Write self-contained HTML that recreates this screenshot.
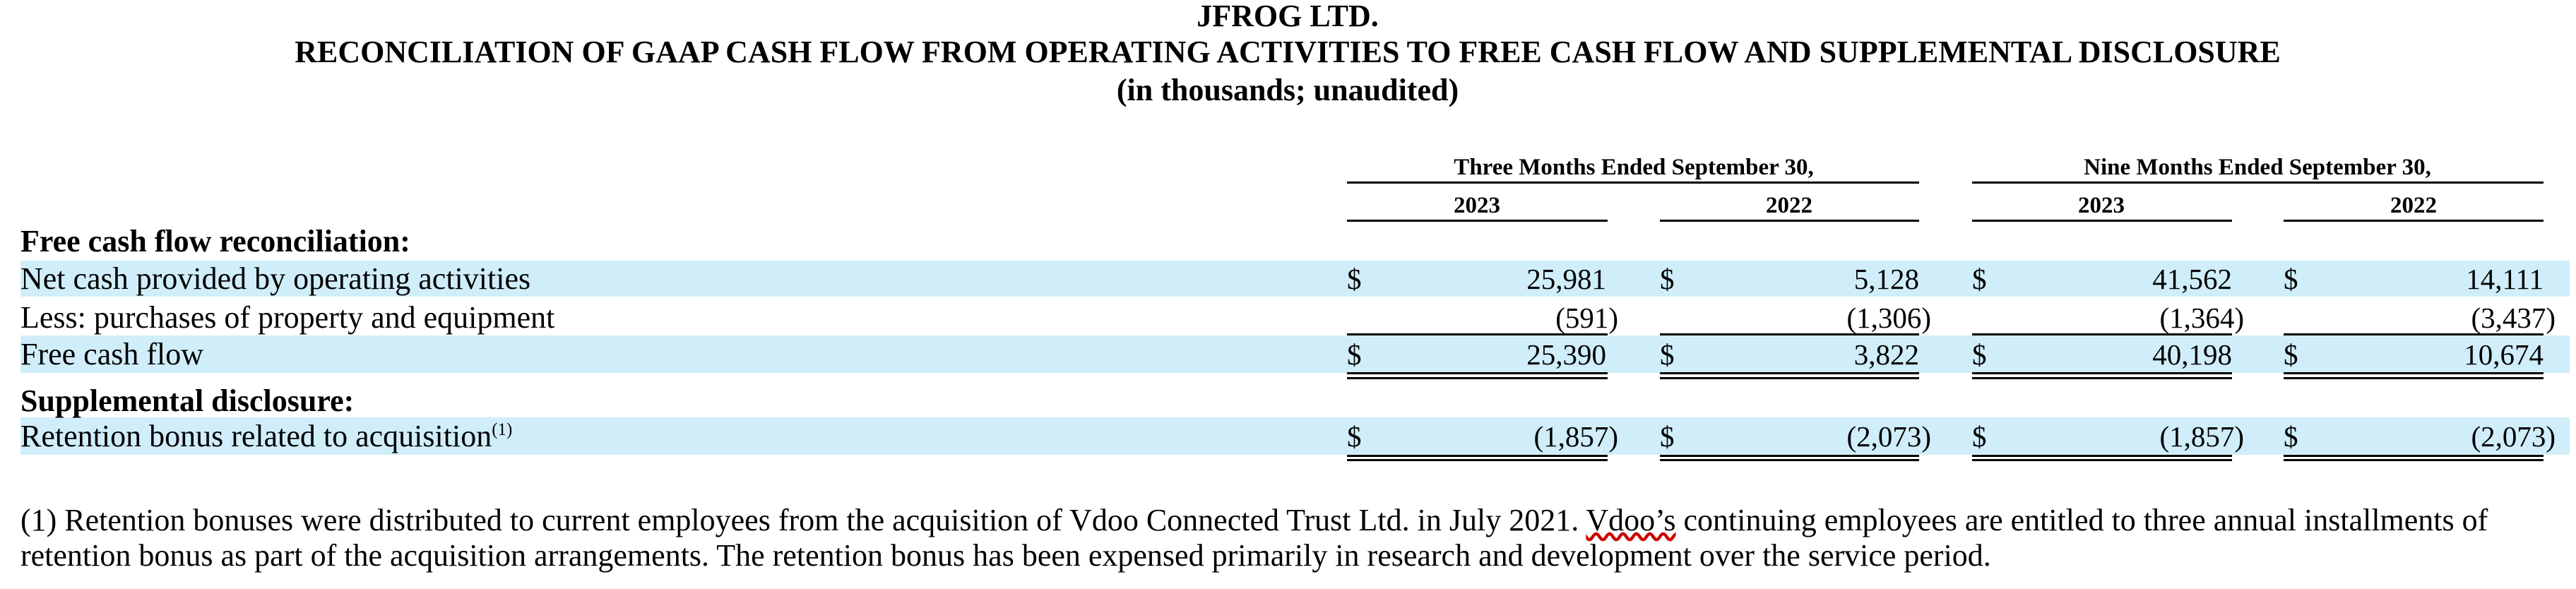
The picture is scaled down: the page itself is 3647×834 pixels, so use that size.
<!DOCTYPE html>
<html><head><meta charset="utf-8"><style>
body{margin:0;width:3647px;height:834px;background:#fff;position:relative;overflow:hidden;font-family:"Liberation Serif",serif;color:#000}
.a{position:absolute;white-space:nowrap;line-height:1}
.c{transform:translateX(-50%)}
.t{font-weight:bold;font-size:44px}
.h{font-weight:bold;font-size:33px}
.l{font-size:44px}
.n{font-size:41px}
.band{position:absolute;left:29px;width:3609px;background:#d0eefa}
.ln{position:absolute;height:3px;background:#000}
.r{text-align:right}
</style></head><body>
<div class="a t c" style="left:1823px;top:1px">JFROG LTD.</div>
<div class="a t c" style="left:1823px;top:52px">RECONCILIATION OF GAAP CASH FLOW FROM OPERATING ACTIVITIES TO FREE CASH FLOW AND SUPPLEMENTAL DISCLOSURE</div>
<div class="a t c" style="left:1823px;top:106px">(in thousands; unaudited)</div>

<div class="a h c" style="left:2313px;top:221px">Three Months Ended September 30,</div>
<div class="a h c" style="left:3196px;top:221px">Nine Months Ended September 30,</div>
<div class="ln" style="left:1907px;width:810px;top:257px"></div>
<div class="ln" style="left:2792px;width:809px;top:257px"></div>
<div class="a h c" style="left:2091px;top:275px">2023</div>
<div class="a h c" style="left:2533px;top:275px">2022</div>
<div class="a h c" style="left:2975px;top:275px">2023</div>
<div class="a h c" style="left:3417px;top:275px">2022</div>
<div class="ln" style="left:1907px;width:369px;top:311px"></div>
<div class="ln" style="left:2350px;width:367px;top:311px"></div>
<div class="ln" style="left:2792px;width:368px;top:311px"></div>
<div class="ln" style="left:3233px;width:368px;top:311px"></div>

<div class="band" style="top:369px;height:51px"></div>
<div class="band" style="top:475px;height:53px"></div>
<div class="band" style="top:591px;height:53px"></div>

<div class="a l" style="left:29px;top:320px;font-weight:bold">Free cash flow reconciliation:</div>
<div class="a l" style="left:29px;top:373px">Net cash provided by operating activities</div>
<div class="a l" style="left:29px;top:428px">Less: purchases of property and equipment</div>
<div class="a l" style="left:29px;top:480px">Free cash flow</div>
<div class="a l" style="left:29px;top:546px;font-weight:bold">Supplemental disclosure:</div>
<div class="a l" style="left:29px;top:596px">Retention bonus related to acquisition<span style="font-size:25px;vertical-align:16px">(1)</span></div>

<div class="a n" style="left:1907px;top:375px">$</div>
<div class="a n" style="left:2350px;top:375px">$</div>
<div class="a n" style="left:2792px;top:375px">$</div>
<div class="a n" style="left:3233px;top:375px">$</div>
<div class="a n r" style="right:1373px;top:375px">25,981</div>
<div class="a n r" style="right:930px;top:375px">5,128</div>
<div class="a n r" style="right:487px;top:375px">41,562</div>
<div class="a n r" style="right:46px;top:375px">14,111</div>

<div class="a n r" style="right:1356px;top:430px">(591)</div>
<div class="a n r" style="right:913px;top:430px">(1,306)</div>
<div class="a n r" style="right:470px;top:430px">(1,364)</div>
<div class="a n r" style="right:29px;top:430px">(3,437)</div>
<div class="ln" style="left:1907px;width:369px;top:472px"></div>
<div class="ln" style="left:2350px;width:367px;top:472px"></div>
<div class="ln" style="left:2792px;width:368px;top:472px"></div>
<div class="ln" style="left:3233px;width:368px;top:472px"></div>

<div class="a n" style="left:1907px;top:482px">$</div>
<div class="a n" style="left:2350px;top:482px">$</div>
<div class="a n" style="left:2792px;top:482px">$</div>
<div class="a n" style="left:3233px;top:482px">$</div>
<div class="a n r" style="right:1373px;top:482px">25,390</div>
<div class="a n r" style="right:930px;top:482px">3,822</div>
<div class="a n r" style="right:487px;top:482px">40,198</div>
<div class="a n r" style="right:46px;top:482px">10,674</div>
<div class="ln" style="left:1907px;width:369px;top:527px"></div>
<div class="ln" style="left:2350px;width:367px;top:527px"></div>
<div class="ln" style="left:2792px;width:368px;top:527px"></div>
<div class="ln" style="left:3233px;width:368px;top:527px"></div>
<div class="ln" style="left:1907px;width:369px;top:534px"></div>
<div class="ln" style="left:2350px;width:367px;top:534px"></div>
<div class="ln" style="left:2792px;width:368px;top:534px"></div>
<div class="ln" style="left:3233px;width:368px;top:534px"></div>

<div class="a n" style="left:1907px;top:598px">$</div>
<div class="a n" style="left:2350px;top:598px">$</div>
<div class="a n" style="left:2792px;top:598px">$</div>
<div class="a n" style="left:3233px;top:598px">$</div>
<div class="a n r" style="right:1356px;top:598px">(1,857)</div>
<div class="a n r" style="right:913px;top:598px">(2,073)</div>
<div class="a n r" style="right:470px;top:598px">(1,857)</div>
<div class="a n r" style="right:29px;top:598px">(2,073)</div>
<div class="ln" style="left:1907px;width:369px;top:644px"></div>
<div class="ln" style="left:2350px;width:367px;top:644px"></div>
<div class="ln" style="left:2792px;width:368px;top:644px"></div>
<div class="ln" style="left:3233px;width:368px;top:644px"></div>
<div class="ln" style="left:1907px;width:369px;top:650px"></div>
<div class="ln" style="left:2350px;width:367px;top:650px"></div>
<div class="ln" style="left:2792px;width:368px;top:650px"></div>
<div class="ln" style="left:3233px;width:368px;top:650px"></div>

<div class="a l" style="left:29px;top:715px">(1) Retention bonuses were distributed to current employees from the acquisition of Vdoo Connected Trust Ltd. in July 2021. <span style="text-decoration:underline wavy #c00">Vdoo’s</span> continuing employees are entitled to three annual installments of</div>
<div class="a l" style="left:29px;top:765px">retention bonus as part of the acquisition arrangements. The retention bonus has been expensed primarily in research and development over the service period.</div>
</body></html>
